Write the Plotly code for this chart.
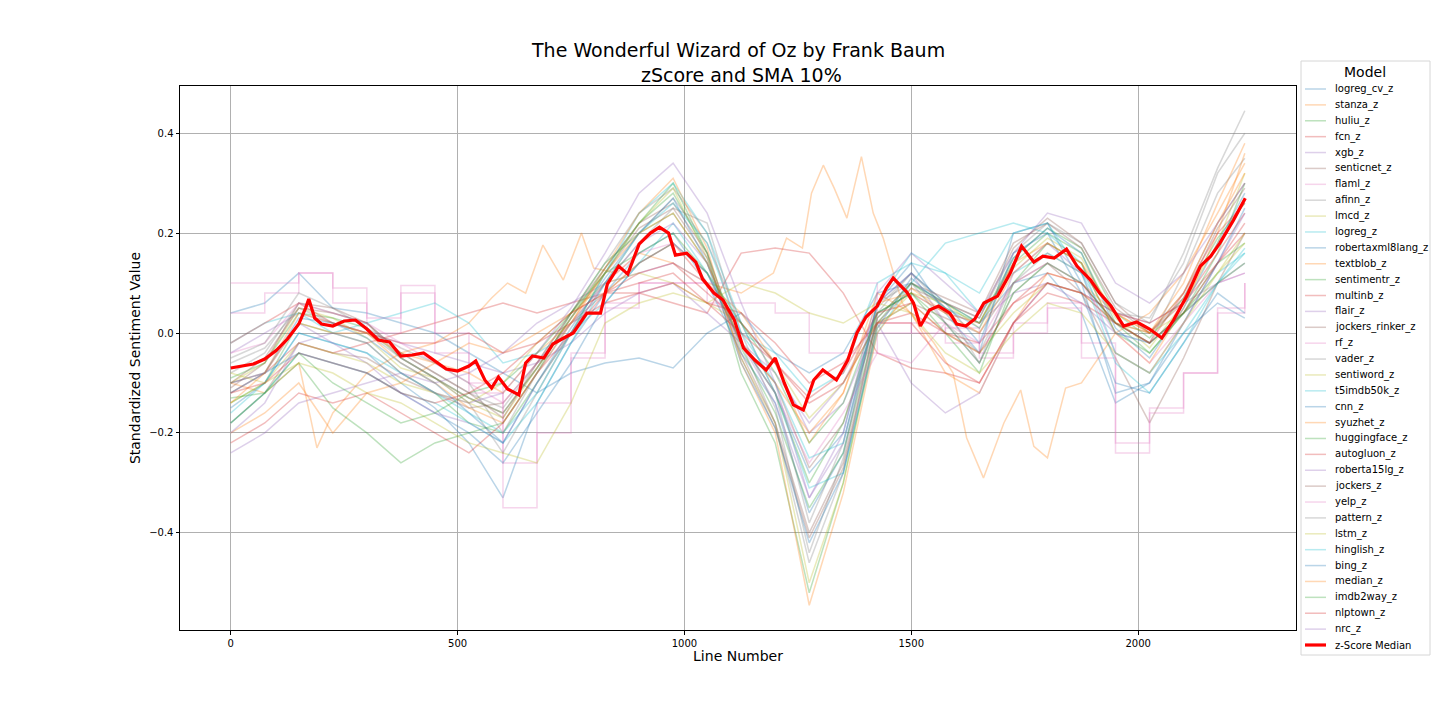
"""
Sentiment arcs for The Wonderful Wizard of Oz: every model's z-scored SMA plus the median.
"""

import plotly.graph_objects as go

# line numbers where the model arcs were sampled
line_numbers = [0, 75, 150, 225, 300, 375, 450, 525, 600, 675, 750, 825, 900, 975, 1050, 1125,
                1200, 1275, 1350, 1425, 1500, 1575, 1650, 1725, 1800, 1875, 1950, 2025, 2100, 2175, 2235]

logreg_cv_z = [0.04, 0.06, 0.12, 0.05, 0.04, 0.02, 0.0, -0.04, -0.08, -0.12, -0.08, -0.06, -0.05, -0.07, 0.0, 0.04,
               -0.04, -0.08, -0.04, 0.08, 0.10, 0.06, 0.02, 0.10, 0.12, 0.04, -0.14, -0.10, 0.0, 0.06, 0.03]
huliu_z = [-0.14, -0.10, 0.02, 0.0, -0.02, -0.08, -0.12, -0.18, -0.20, -0.10, 0.0, 0.12, 0.22, 0.30, 0.16, -0.08,
           -0.22, -0.52, -0.30, 0.02, 0.10, 0.05, 0.02, 0.14, 0.20, 0.16, 0.02, -0.04, 0.04, 0.16, 0.30]
fcn_z = [-0.10, -0.08, -0.02, -0.04, -0.02, 0.0, 0.02, 0.04, 0.06, 0.04, 0.06, 0.08, 0.08, 0.06, 0.04, 0.16,
         0.17, 0.16, 0.08, -0.04, -0.07, -0.08, -0.10, 0.02, 0.08, 0.06, 0.02, 0.0, 0.06, 0.16, 0.24]
xgb_z = [-0.04, 0.0, 0.04, 0.02, 0.0, -0.02, -0.04, -0.06, -0.08, -0.06, -0.02, 0.04, 0.08, 0.10, 0.04, -0.02,
         -0.08, -0.18, -0.10, 0.04, 0.08, 0.04, 0.02, 0.08, 0.10, 0.08, 0.04, 0.02, 0.06, 0.10, 0.12]
senticnet_z = [-0.18, -0.12, -0.02, -0.04, -0.05, -0.09, -0.12, -0.15, -0.14, -0.06, 0.02, 0.08, 0.14, 0.18, 0.12, -0.02,
               -0.10, -0.27, -0.18, 0.02, 0.06, 0.03, 0.0, 0.10, 0.14, 0.08, -0.05, -0.18, -0.05, 0.10, 0.20]
flaml_z = [0.04, 0.08, 0.12, 0.06, 0.0, 0.08, -0.04, -0.12, -0.26, -0.14, -0.04, 0.06, 0.10, 0.10, 0.06, 0.06,
           0.04, -0.04, -0.04, 0.0, 0.02, -0.02, -0.04, 0.02, 0.06, -0.02, -0.24, -0.16, -0.08, 0.04, 0.10]
afinn_z = [-0.08, -0.04, 0.06, 0.04, 0.02, -0.04, -0.08, -0.12, -0.15, -0.06, 0.04, 0.14, 0.24, 0.29, 0.20, -0.02,
           -0.18, -0.46, -0.28, 0.04, 0.12, 0.06, 0.03, 0.16, 0.22, 0.18, 0.06, 0.02, 0.16, 0.33, 0.445]
lmcd_z = [-0.10, -0.06, 0.05, 0.03, -0.01, -0.07, -0.09, -0.14, -0.17, -0.07, 0.03, 0.12, 0.22, 0.29, 0.15, -0.05,
          -0.18, -0.50, -0.30, 0.01, 0.08, 0.06, 0.01, 0.13, 0.19, 0.15, 0.03, -0.03, 0.06, 0.18, 0.32]
logreg_z = [-0.02, 0.02, 0.04, 0.0, 0.02, 0.04, 0.06, 0.02, -0.06, -0.04, 0.0, 0.06, 0.14, 0.22, 0.12, 0.0,
            -0.04, -0.12, -0.08, 0.10, 0.14, 0.12, 0.04, 0.12, 0.16, 0.12, 0.0, -0.02, 0.04, 0.12, 0.16]
robertaxml8lang_z = [-0.15, -0.10, 0.0, -0.02, -0.04, -0.10, -0.15, -0.22, -0.33, -0.14, -0.02, 0.08, 0.16, 0.20, 0.10, -0.04,
                     -0.14, -0.36, -0.24, 0.06, 0.14, 0.04, -0.04, 0.20, 0.22, 0.10, -0.12, -0.10, 0.02, 0.14, 0.25]
textblob_z = [-0.20, -0.16, -0.10, -0.20, -0.12, -0.10, -0.06, -0.02, -0.04, 0.0, 0.04, 0.08, 0.14, 0.18, 0.10, 0.04,
              -0.06, -0.22, -0.12, 0.08, 0.04, -0.08, -0.12, 0.02, 0.12, 0.10, 0.04, 0.0, 0.10, 0.26, 0.38]
sentimentr_z = [-0.09, -0.06, 0.04, 0.03, 0.01, -0.05, -0.09, -0.13, -0.16, -0.07, 0.03, 0.13, 0.22, 0.28, 0.16, -0.03,
                -0.16, -0.35, -0.24, 0.03, 0.10, 0.06, 0.02, 0.15, 0.21, 0.17, 0.04, -0.01, 0.07, 0.19, 0.26]
multinb_z = [-0.02, 0.02, 0.06, 0.02, 0.0, -0.02, -0.02, 0.0, -0.04, -0.02, 0.02, 0.06, 0.08, 0.10, 0.06, 0.04,
             -0.02, -0.10, -0.06, 0.02, 0.04, 0.0, -0.02, 0.06, 0.10, 0.08, 0.04, 0.02, 0.06, 0.14, 0.20]
flair_z = [-0.24, -0.20, -0.14, -0.12, -0.10, -0.08, -0.10, -0.08, -0.04, 0.02, 0.06, 0.10, 0.12, 0.14, 0.10, 0.02,
           -0.06, -0.20, -0.14, 0.02, -0.10, -0.16, -0.12, 0.02, 0.10, 0.06, 0.0, -0.02, 0.04, 0.10, 0.14]
jockers_rinker_z = [-0.11, -0.06, 0.06, 0.05, 0.02, -0.05, -0.09, -0.13, -0.16, -0.07, 0.03, 0.12, 0.21, 0.25, 0.15, -0.05,
                    -0.19, -0.41, -0.27, 0.02, 0.09, 0.06, 0.03, 0.17, 0.23, 0.18, 0.06, 0.0, 0.07, 0.21, 0.29]
rf_z = [0.10, 0.10, 0.12, 0.09, 0.03, 0.095, 0.0, -0.10, -0.35, -0.20, -0.05, 0.05, 0.10, 0.10, 0.10, 0.10,
        0.10, 0.10, 0.10, 0.02, 0.0, 0.01, -0.05, 0.0, 0.05, -0.05, -0.22, -0.15, -0.08, 0.05, 0.10]
vader_z = [-0.06, -0.03, 0.05, 0.02, 0.0, -0.05, -0.09, -0.14, -0.24, -0.12, 0.0, 0.10, 0.20, 0.27, 0.18, 0.02,
           -0.12, -0.38, -0.22, 0.05, 0.12, 0.05, -0.06, 0.08, 0.14, 0.10, 0.02, -0.02, 0.12, 0.28, 0.35]
sentiword_z = [-0.14, -0.10, -0.02, -0.04, -0.06, -0.10, -0.12, -0.14, -0.10, -0.02, 0.04, 0.10, 0.12, 0.10, 0.06, 0.02,
               -0.06, -0.17, -0.10, 0.02, 0.06, 0.0, -0.04, 0.04, 0.10, 0.08, 0.02, 0.0, 0.04, 0.12, 0.20]
t5imdb50k_z = [-0.16, -0.10, 0.0, -0.02, -0.04, -0.08, -0.12, -0.16, -0.20, -0.12, 0.0, 0.12, 0.24, 0.30, 0.20, 0.02,
               -0.12, -0.31, -0.28, 0.0, 0.10, 0.18, 0.20, 0.22, 0.20, 0.14, -0.04, -0.08, 0.0, 0.10, 0.17]
cnn_z = [-0.10, -0.08, -0.04, -0.06, -0.08, -0.12, -0.16, -0.20, -0.26, -0.16, -0.06, 0.06, 0.14, 0.18, 0.12, -0.02,
         -0.12, -0.28, -0.20, 0.06, 0.12, 0.06, -0.02, 0.16, 0.20, 0.08, -0.10, -0.12, -0.02, 0.08, 0.04]
syuzhet_z = [-0.12, -0.08, 0.04, 0.02, 0.0, -0.06, -0.10, -0.15, -0.18, -0.08, 0.02, 0.13, 0.24, 0.31, 0.17, -0.06,
             -0.20, -0.545, -0.32, 0.0, 0.09, 0.04, 0.0, 0.12, 0.18, 0.14, 0.0, -0.06, 0.05, 0.20, 0.36]
huggingface_z = [-0.13, -0.12, -0.06, -0.15, -0.20, -0.26, -0.22, -0.20, -0.18, -0.08, 0.04, 0.14, 0.20, 0.24, 0.14, -0.02,
                 -0.12, -0.30, -0.18, 0.04, 0.08, 0.0, -0.08, 0.10, 0.18, 0.14, 0.0, -0.04, 0.04, 0.14, 0.18]
autogluon_z = [-0.22, -0.18, -0.12, -0.14, -0.12, -0.16, -0.20, -0.24, -0.18, -0.08, 0.0, 0.08, 0.12, 0.14, 0.08, 0.02,
               -0.06, -0.14, -0.10, 0.02, 0.02, -0.06, -0.10, 0.02, 0.10, 0.08, 0.02, -0.02, 0.04, 0.14, 0.22]
roberta15lg_z = [-0.12, -0.08, 0.02, -0.02, -0.06, -0.12, -0.16, -0.18, -0.22, -0.10, 0.0, 0.10, 0.18, 0.22, 0.14, -0.02,
                 -0.14, -0.33, -0.22, 0.06, 0.12, 0.02, -0.06, 0.12, 0.18, 0.12, -0.04, -0.08, 0.02, 0.14, 0.24]
jockers_z = [-0.10, -0.05, 0.05, 0.04, 0.02, -0.04, -0.08, -0.12, -0.17, -0.06, 0.04, 0.13, 0.22, 0.26, 0.16, -0.04,
             -0.18, -0.40, -0.26, 0.03, 0.10, 0.07, 0.04, 0.18, 0.22, 0.17, 0.05, 0.0, 0.08, 0.22, 0.30]
yelp_z = [-0.04, -0.02, 0.06, 0.04, 0.02, -0.02, -0.06, -0.10, -0.14, -0.06, 0.02, 0.10, 0.16, 0.18, 0.10, -0.02,
          -0.12, -0.26, -0.16, -0.04, -0.06, 0.02, -0.02, 0.10, 0.14, 0.10, 0.0, -0.06, 0.02, 0.10, 0.12]
pattern_z = [-0.05, -0.02, 0.08, 0.05, 0.01, -0.03, -0.06, -0.10, -0.20, -0.08, 0.02, 0.10, 0.18, 0.25, 0.22, 0.0,
             -0.15, -0.44, -0.25, 0.06, 0.10, 0.02, -0.04, 0.10, 0.16, 0.12, 0.04, 0.03, 0.14, 0.32, 0.40]
lstm_z = [-0.08, -0.10, -0.06, -0.08, -0.12, -0.14, -0.18, -0.22, -0.24, -0.26, -0.14, 0.02, 0.06, 0.08, 0.06, 0.10,
          0.08, 0.04, 0.02, 0.06, 0.04, -0.04, -0.08, 0.0, 0.06, 0.04, -0.04, -0.08, 0.02, 0.12, 0.18]
hinglish_z = [-0.18, -0.12, -0.04, -0.06, -0.08, -0.12, -0.14, -0.18, -0.22, -0.14, -0.02, 0.10, 0.20, 0.26, 0.18, 0.0,
              -0.10, -0.25, -0.22, 0.06, 0.16, 0.12, 0.08, 0.20, 0.22, 0.12, -0.06, -0.12, -0.02, 0.10, 0.16]
bing_z = [-0.12, -0.08, 0.03, 0.02, -0.01, -0.06, -0.10, -0.16, -0.22, -0.10, 0.01, 0.11, 0.20, 0.27, 0.14, -0.06,
          -0.19, -0.42, -0.28, 0.01, 0.11, 0.05, 0.01, 0.15, 0.21, 0.16, 0.01, -0.05, 0.05, 0.18, 0.28]
median_z = [-0.14, -0.08, 0.02, 0.0, 0.0, -0.04, -0.06, -0.08, -0.12, -0.04, 0.02, 0.12, 0.20, 0.24, 0.14, -0.02,
            -0.10, -0.20, -0.12, 0.06, 0.08, 0.04, 0.02, 0.14, 0.18, 0.14, 0.04, 0.0, 0.08, 0.22, 0.32]
imdb2way_z = [-0.18, -0.12, -0.04, -0.10, -0.14, -0.18, -0.16, -0.12, -0.10, -0.04, 0.04, 0.12, 0.16, 0.20, 0.12, 0.02,
              -0.08, -0.22, -0.14, 0.04, 0.08, 0.02, -0.06, 0.08, 0.14, 0.10, 0.02, -0.02, 0.04, 0.10, 0.14]
nlptown_z = [-0.12, -0.10, -0.04, -0.06, -0.08, -0.12, -0.14, -0.12, -0.08, -0.02, 0.04, 0.08, 0.10, 0.12, 0.06, 0.0,
             -0.06, -0.13, -0.08, 0.04, 0.06, 0.0, -0.04, 0.06, 0.12, 0.10, 0.02, -0.02, 0.08, 0.20, 0.26]
nrc_z = [-0.20, -0.14, -0.02, 0.0, -0.02, -0.08, -0.12, -0.14, -0.12, -0.04, 0.05, 0.16, 0.28, 0.34, 0.24, 0.06,
         -0.10, -0.33, -0.20, 0.08, 0.16, 0.10, 0.04, 0.16, 0.24, 0.22, 0.10, 0.06, 0.12, 0.22, 0.30]

# stanza is the odd one out, so it gets its own denser sampling
stanza_lines = [0, 75, 150, 190, 225, 300, 375, 450, 525, 575, 610, 650, 688, 733, 773, 800, 850, 900, 975,
                1050, 1125, 1196, 1225, 1260, 1280, 1306, 1330, 1358, 1390, 1416, 1438, 1480, 1550, 1592,
                1622, 1659, 1704, 1741, 1770, 1800, 1840, 1875, 1950, 2025, 2100, 2175, 2235]
stanza_z = [-0.10, -0.12, -0.06, -0.23, -0.16, -0.08, -0.04, -0.02, 0.02, 0.07, 0.10, 0.08, 0.176, 0.106,
            0.20, 0.13, 0.12, 0.16, 0.14, 0.10, 0.08, 0.12, 0.19, 0.17, 0.28, 0.336, 0.29, 0.23, 0.353, 0.24,
            0.19, 0.06, -0.02, -0.08, -0.21, -0.29, -0.18, -0.114, -0.227, -0.25, -0.11, -0.10, 0.0, 0.04,
            0.12, 0.24, 0.34]

# median across models, sampled more densely since it is the highlighted line
median_lines = [0, 25, 50, 75, 100, 125, 150, 165, 172, 185, 200, 225, 250, 275, 300, 325, 350, 375, 400,
                425, 450, 475, 500, 525, 540, 560, 575, 590, 610, 635, 650, 665, 690, 710, 730, 755, 785,
                815, 830, 855, 875, 900, 925, 945, 965, 980, 1005, 1025, 1040, 1065, 1085, 1110, 1130, 1155,
                1180, 1200, 1220, 1240, 1262, 1285, 1305, 1335, 1360, 1380, 1400, 1425, 1445, 1460, 1490,
                1505, 1520, 1540, 1560, 1585, 1600, 1620, 1640, 1660, 1690, 1718, 1743, 1770, 1790, 1815,
                1842, 1865, 1895, 1915, 1940, 1968, 1997, 2025, 2052, 2078, 2107, 2137, 2160, 2180, 2210, 2236]
median_values = [-0.070, -0.066, -0.062, -0.052, -0.035, -0.012, 0.018, 0.050, 0.068, 0.030, 0.018, 0.014,
                 0.024, 0.026, 0.008, -0.014, -0.018, -0.046, -0.044, -0.040, -0.056, -0.072, -0.076, -0.066,
                 -0.056, -0.094, -0.110, -0.088, -0.112, -0.124, -0.060, -0.046, -0.050, -0.022, -0.012, 0.000,
                 0.040, 0.040, 0.098, 0.134, 0.118, 0.178, 0.200, 0.212, 0.200, 0.156, 0.160, 0.142, 0.108,
                 0.080, 0.066, 0.026, -0.030, -0.054, -0.074, -0.050, -0.100, -0.144, -0.154, -0.094, -0.074,
                 -0.094, -0.054, 0.000, 0.032, 0.054, 0.090, 0.110, 0.082, 0.060, 0.014, 0.046, 0.054, 0.040,
                 0.018, 0.014, 0.028, 0.060, 0.074, 0.120, 0.174, 0.142, 0.154, 0.150, 0.168, 0.134, 0.106,
                 0.080, 0.054, 0.014, 0.022, 0.008, -0.010, 0.026, 0.074, 0.134, 0.154, 0.180, 0.226, 0.270]

model_names = ["logreg_cv_z", "stanza_z", "huliu_z", "fcn_z", "xgb_z", "senticnet_z", "flaml_z", "afinn_z",
               "lmcd_z", "logreg_z", "robertaxml8lang_z", "textblob_z", "sentimentr_z", "multinb_z", "flair_z",
               "jockers_rinker_z", "rf_z", "vader_z", "sentiword_z", "t5imdb50k_z", "cnn_z", "syuzhet_z",
               "huggingface_z", "autogluon_z", "roberta15lg_z", "jockers_z", "yelp_z", "pattern_z", "lstm_z",
               "hinglish_z", "bing_z", "median_z", "imdb2way_z", "nlptown_z", "nrc_z"]
model_series = [logreg_cv_z, stanza_z, huliu_z, fcn_z, xgb_z, senticnet_z, flaml_z, afinn_z, lmcd_z,
                logreg_z, robertaxml8lang_z, textblob_z, sentimentr_z, multinb_z, flair_z, jockers_rinker_z,
                rf_z, vader_z, sentiword_z, t5imdb50k_z, cnn_z, syuzhet_z, huggingface_z, autogluon_z,
                roberta15lg_z, jockers_z, yelp_z, pattern_z, lstm_z, hinglish_z, bing_z, median_z,
                imdb2way_z, nlptown_z, nrc_z]
stepped = {"flaml_z", "rf_z"}

title_lines = ["The Wonderful Wizard of Oz by Frank Baum", "zScore and SMA 10%"]
y_tick_vals = [-0.4, -0.2, 0.0, 0.2, 0.4]
y_tick_text = ["\u22120.4", "\u22120.2", "0.0", "0.2", "0.4"]
x_tick_vals = [0, 500, 1000, 1500, 2000]

# matplotlib tab10 cycle
TAB10 = ["#1f77b4", "#ff7f0e", "#2ca02c", "#d62728", "#9467bd",
         "#8c564b", "#e377c2", "#7f7f7f", "#bcbd22", "#17becf"]
ALPHA = 0.3
FONT = "DejaVu Sans"

fig = go.Figure()
for i, (name, vals) in enumerate(zip(model_names, model_series)):
    xs = stanza_lines if name == "stanza_z" else line_numbers
    fig.add_trace(go.Scatter(
        x=xs, y=vals, mode="lines", name=name,
        line=dict(color=TAB10[i % 10], width=1.5, shape="hv" if name in stepped else "linear"),
        opacity=ALPHA, showlegend=False,
    ))
fig.add_trace(go.Scatter(
    x=median_lines, y=median_values, mode="lines", name="z-Score Median",
    line=dict(color="red", width=3.2), showlegend=False,
))

# page sits 8px in from the body margin, so work in page pixels and shift the figure
OFF = 8
L, R, T, B = 180, 1296, 86, 630
W, H = R - L, B - T


def px_x(px):
    return (px - L) / W


def px_y(py):
    return (B - py) / H


# hand-drawn legend to get matplotlib's tight entry spacing
shapes = [dict(type="rect", xref="paper", yref="paper",
               x0=px_x(1301), x1=px_x(1430), y0=px_y(655), y1=px_y(61),
               line=dict(color="#d6d6d6", width=1), fillcolor="white", layer="above")]
annotations = [
    dict(text=title_lines[0], xref="paper", yref="paper",
         x=px_x(738), y=px_y(50), xanchor="center", yanchor="middle", showarrow=False,
         font=dict(family=FONT, size=19, color="black")),
    dict(text=title_lines[1], xref="paper", yref="paper",
         x=px_x(741), y=px_y(75), xanchor="center", yanchor="middle", showarrow=False,
         font=dict(family=FONT, size=19, color="black")),
    dict(text="Model", xref="paper", yref="paper", x=px_x(1365), y=px_y(72),
         xanchor="center", yanchor="middle", showarrow=False,
         font=dict(family=FONT, size=14, color="black")),
]
legend_names = model_names + ["z-Score Median"]
step = (645 - 89) / (len(legend_names) - 1)
for i, name in enumerate(legend_names):
    yy = px_y(89 + i * step)
    if name == "z-Score Median":
        col, op, w = "red", 1.0, 3.2
    else:
        col, op, w = TAB10[i % 10], ALPHA, 1.5
    shapes.append(dict(type="line", xref="paper", yref="paper",
                       x0=px_x(1305), x1=px_x(1326), y0=yy, y1=yy,
                       line=dict(color=col, width=w), opacity=op, layer="above"))
    annotations.append(dict(text=name, xref="paper", yref="paper", x=px_x(1333), y=yy,
                            xanchor="left", yanchor="middle", showarrow=False,
                            font=dict(family=FONT, size=10, color="black")))

axis_common = dict(
    showgrid=True, gridcolor="#b0b0b0", gridwidth=0.8, zeroline=False,
    showline=True, linecolor="black", linewidth=1, mirror=True,
    ticks="outside", ticklen=3.5, tickcolor="black",
    tickfont=dict(family=FONT, size=10, color="black"),
)

fig.update_layout(
    width=1440 - OFF, height=720 - OFF,
    margin=dict(l=L - OFF, r=1440 - R, t=T - OFF, b=720 - B, autoexpand=False),
    paper_bgcolor="white", plot_bgcolor="white",
    font=dict(family=FONT, color="black"),
    xaxis=dict(range=[-111.8, 2347.8], tickvals=x_tick_vals,
               title=dict(text="Line Number", font=dict(family=FONT, size=14), standoff=3),
               **axis_common),
    yaxis=dict(range=[-0.5945, 0.4945], tickvals=y_tick_vals, ticktext=y_tick_text,
               title=dict(text="Standardized Sentiment Value", font=dict(family=FONT, size=14), standoff=5),
               **axis_common),
    shapes=shapes,
    annotations=annotations,
    showlegend=False,
)

fig.write_html("out.html")
